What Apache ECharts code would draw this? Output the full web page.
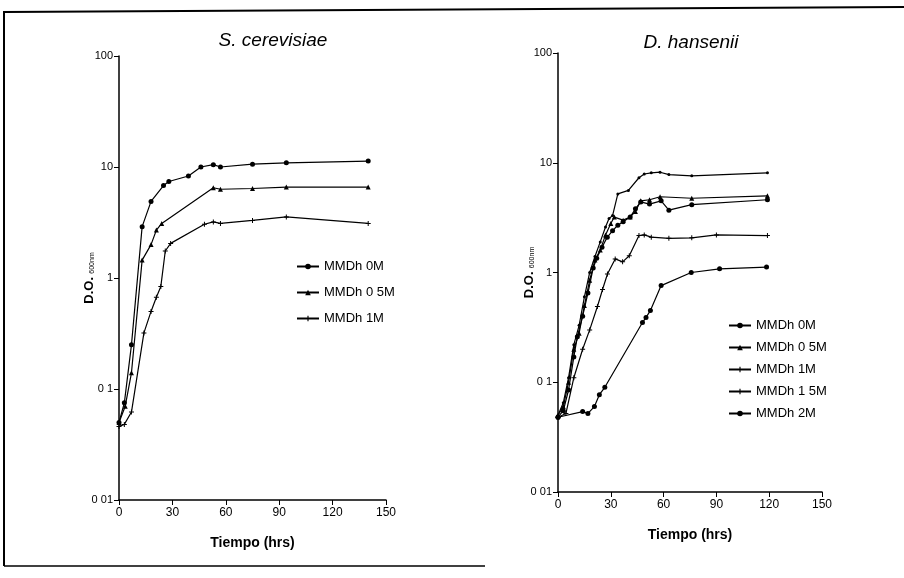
<!DOCTYPE html>
<html><head><meta charset="utf-8">
<script src="https://cdn.jsdelivr.net/npm/echarts@6/dist/echarts.min.js"></script>
<style>html,body{margin:0;padding:0;background:#fff}#c{width:904px;height:578px}</style>
</head><body><div id="c"></div>
<script>
// ---- data ----
const titles = ['S. cerevisiae', 'D. hansenii'];
const xTickValues = [0, 30, 60, 90, 120, 150];
const yTickLabels = ['0 01', '0 1', '1', '10', '100']; // 0.01 .. 100
const xAxisName = 'Tiempo (hrs)';
const legendLeft = ['MMDh 0M', 'MMDh 0 5M', 'MMDh 1M'];
const legendRight = ['MMDh 0M', 'MMDh 0 5M', 'MMDh 1M', 'MMDh 1 5M', 'MMDh 2M'];

// S. cerevisiae
const sc0M_t  = [0, 3, 7, 13, 18, 25, 28, 39, 46, 53, 57, 75, 94, 140];
const sc0M_v  = [0.05, 0.075, 0.25, 2.9, 4.9, 6.8, 7.4, 8.3, 10, 10.5, 10, 10.6, 10.9, 11.3];
const sc05M_t = [0, 3.5, 7, 13, 18, 21, 24, 53, 57, 75, 94, 140];
const sc05M_v = [0.05, 0.07, 0.14, 1.45, 2.0, 2.7, 3.1, 6.5, 6.3, 6.4, 6.6, 6.6];
const sc1M_t  = [0, 3, 7, 14, 18, 21, 23.5, 26, 29, 48, 53, 57, 75, 94, 140];
const sc1M_v  = [0.046, 0.048, 0.062, 0.32, 0.5, 0.67, 0.84, 1.75, 2.05, 3.05, 3.2, 3.1, 3.3, 3.55, 3.1];

// D. hansenii
const dh0M_t  = [0, 3, 6, 9, 11, 14, 17, 20, 22, 25, 28, 31, 34, 37, 41, 44, 47, 52, 58.6, 63, 76, 119];
const dh0M_v  = [0.048, 0.055, 0.085, 0.17, 0.26, 0.4, 0.65, 1.1, 1.35, 1.7, 2.1, 2.4, 2.7, 2.9, 3.2, 3.8, 4.4, 4.2, 4.5, 3.7, 4.15, 4.6];
const dh05M_t = [0, 3, 6, 9, 12, 15, 18, 21, 24, 27, 29, 31, 34, 40, 46, 49, 53, 58, 63, 76, 119];
const dh05M_v = [0.05, 0.065, 0.11, 0.22, 0.33, 0.6, 1.0, 1.4, 1.9, 2.6, 3.1, 3.3, 5.2, 5.6, 7.3, 7.9, 8.1, 8.2, 7.8, 7.6, 8.1];
const dh1M_t  = [0, 3, 6, 9, 12, 15, 18, 21, 24, 27, 30, 32, 37, 41, 44, 47, 52, 58, 76, 119];
const dh1M_v  = [0.05, 0.06, 0.1, 0.2, 0.28, 0.5, 0.85, 1.3, 1.6, 2.2, 2.8, 3.2, 3.0, 3.2, 3.6, 4.5, 4.6, 4.9, 4.75, 5.0];
const dh15M_t = [0, 4.5, 9, 14, 18, 22.4, 25.3, 28.1, 32.5, 36.7, 40.5, 46, 49, 53, 63, 76, 90, 119];
const dh15M_v = [0.048, 0.052, 0.11, 0.2, 0.3, 0.49, 0.7, 0.97, 1.33, 1.25, 1.42, 2.17, 2.2, 2.1, 2.05, 2.07, 2.2, 2.17];
const dh2M_t  = [0, 14, 17, 20.7, 23.5, 26.6, 48, 50, 52.5, 58.6, 75.7, 91.8, 118.5];
const dh2M_v  = [0.048, 0.054, 0.052, 0.06, 0.077, 0.09, 0.35, 0.39, 0.45, 0.76, 1.0, 1.08, 1.12];

// ---- chart ----
const pairs = (t, v) => t.map((x, i) => [x, v[i]]);
const PLUS = 'path://M4,0H6V4H10V6H6V10H4V6H0V4H4Z';
const FONT = 'Liberation Sans';

function mkSeries(name, idx, t, v, symbol, size) {
  return {
    type: 'line', name: name, xAxisIndex: idx, yAxisIndex: idx,
    data: pairs(t, v), symbol: symbol, symbolSize: size,
    lineStyle: { color: '#000', width: 1.2 },
    itemStyle: { color: '#000' },
    emphasis: { disabled: true },
    animation: false
  };
}

function xAx(idx) {
  return {
    gridIndex: idx, type: 'value', min: 0, max: 150, interval: 30,
    axisLine: { lineStyle: { color: '#000', width: 1.5 } },
    axisTick: { show: true, length: 5, lineStyle: { color: '#000' } },
    axisLabel: { color: '#000', fontFamily: FONT, fontSize: 12, margin: 7,
      formatter: v => xTickValues.indexOf(v) >= 0 ? String(v) : '' },
    splitLine: { show: false },
    name: xAxisName, nameLocation: 'middle', nameGap: 36, nameMoveOverlap: false,
    nameTextStyle: { color: '#000', fontFamily: FONT, fontSize: 14, fontWeight: 'bold' }
  };
}
function yAx(idx, gap) {
  return {
    gridIndex: idx, type: 'log', logBase: 10, min: 0.01, max: 100,
    axisLine: { show: true, lineStyle: { color: '#000', width: 1.5 } },
    axisTick: { show: true, length: 5, lineStyle: { color: '#000' } },
    axisLabel: { color: '#000', fontFamily: FONT, fontSize: 11, margin: 6,
      formatter: v => yTickLabels[Math.round(Math.log10(v)) + 2] },
    splitLine: { show: false },
    name: '{a|D.O.} {b|600nm}', nameLocation: 'middle', nameRotate: 90, nameGap: gap,
    nameMoveOverlap: false,
    nameTextStyle: { rich: {
      a: { fontFamily: FONT, fontSize: 13, fontWeight: 'bold', color: '#000' },
      b: { fontFamily: FONT, fontSize: 7, color: '#000', padding: [6, 0, 0, 0] }
    } }
  };
}

const chart = echarts.init(document.getElementById('c'), null, { renderer: 'canvas' });
chart.setOption({
  backgroundColor: '#fff',
  animation: false,
  title: [
    { text: titles[0], left: 268, top: 26, textAlign: 'center',
      textStyle: { fontFamily: FONT, fontSize: 19, fontStyle: 'italic', fontWeight: 'normal', color: '#000' } },
    { text: titles[1], left: 686, top: 28, textAlign: 'center',
      textStyle: { fontFamily: FONT, fontSize: 19, fontStyle: 'italic', fontWeight: 'normal', color: '#000' } }
  ],
  grid: [
    { left: 119, top: 56, width: 267, height: 444 },
    { left: 558, top: 53, width: 264, height: 439 }
  ],
  xAxis: [xAx(0), xAx(1)],
  yAxis: [yAx(0, 23), yAx(1, 22)],
  legend: [
    { data: legendLeft, orient: 'vertical', left: 296, top: 260, itemGap: 13, padding: 0,
      itemWidth: 22, itemHeight: 7, selectedMode: false,
      textStyle: { fontFamily: FONT, fontSize: 13, color: '#000' } },
    { data: legendRight, orient: 'vertical', left: 728, top: 319, itemGap: 9, padding: 0,
      itemWidth: 22, itemHeight: 7, selectedMode: false,
      textStyle: { fontFamily: FONT, fontSize: 13, color: '#000' } }
  ],
  graphic: [
    { type: 'polyline', shape: { points: [[4, 566], [4, 12], [904, 7]] },
      style: { stroke: '#000', lineWidth: 2, fill: null } },
    { type: 'line', shape: { x1: 4, y1: 566, x2: 485, y2: 566 },
      style: { stroke: '#000', lineWidth: 1.5 } }
  ],
  series: [
    mkSeries(legendLeft[0], 0, sc0M_t, sc0M_v, 'circle', 5),
    mkSeries(legendLeft[1], 0, sc05M_t, sc05M_v, 'triangle', 5),
    mkSeries(legendLeft[2], 0, sc1M_t, sc1M_v, PLUS, 5),
    mkSeries(legendRight[0], 1, dh0M_t, dh0M_v, 'circle', 5),
    mkSeries(legendRight[1], 1, dh05M_t, dh05M_v, 'circle', 3),
    mkSeries(legendRight[2], 1, dh1M_t, dh1M_v, 'triangle', 5),
    mkSeries(legendRight[3], 1, dh15M_t, dh15M_v, PLUS, 5),
    mkSeries(legendRight[4], 1, dh2M_t, dh2M_v, 'circle', 5)
  ]
});
</script></body></html>
